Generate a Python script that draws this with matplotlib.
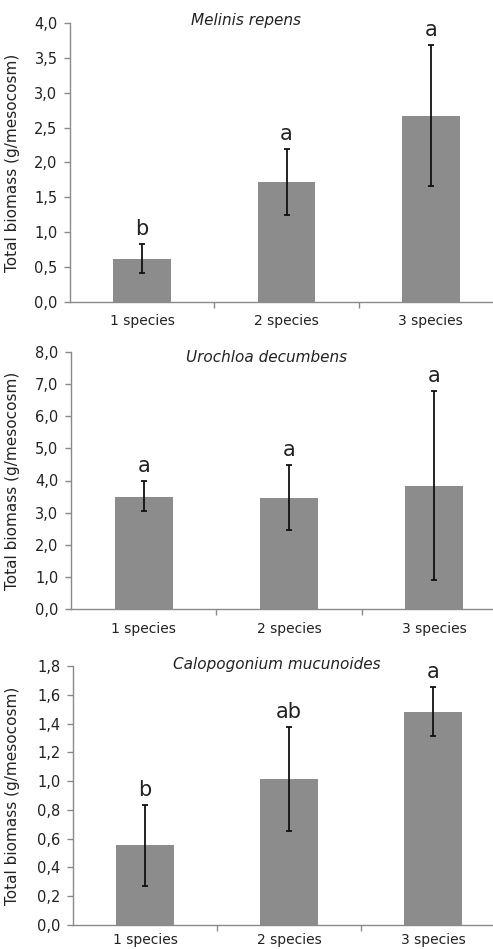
import matplotlib
matplotlib.use("Agg")
import matplotlib.pyplot as plt
import numpy as np

categories = ["1 species", "2 species", "3 species"]

titles = ["Melinis repens", "Urochloa decumbens", "Calopogonium mucunoides"]

melinis_mean = [0.61, 1.72, 2.67]
melinis_low = [0.41, 1.25, 1.67]
melinis_high = [0.83, 2.19, 3.69]
melinis_letters = ["b", "a", "a"]

urochloa_mean = [3.50, 3.44, 3.82]
urochloa_low = [3.06, 2.45, 0.89]
urochloa_high = [3.97, 4.47, 6.79]
urochloa_letters = ["a", "a", "a"]

calo_mean = [0.555, 1.016, 1.48]
calo_low = [0.274, 0.656, 1.311]
calo_high = [0.837, 1.378, 1.652]
calo_letters = ["b", "ab", "a"]

yticks_list = [np.arange(0, 4.01, 0.5), np.arange(0, 8.01, 1.0), np.arange(0, 1.81, 0.2)]
ylims = [4.0, 8.0, 1.8]

W, H = 493, 949
fig = plt.figure(figsize=(W / 100, H / 100), dpi=100)
fig.patch.set_facecolor("white")

# pixel boxes: left, top, right, bottom
boxes = [(70, 23, 503, 302), (71, 352, 507, 609), (73, 666, 505, 925)]
title_pos = [(246, 21), (267, 357), (277, 664)]
xpads = [9, 9, 5.5]

data = [
    (melinis_mean, melinis_low, melinis_high, melinis_letters),
    (urochloa_mean, urochloa_low, urochloa_high, urochloa_letters),
    (calo_mean, calo_low, calo_high, calo_letters),
]

axis_col = "#8a8a8a"
bar_col = "#8c8c8c"
txt_col = "#222222"

for i, (box, (mean, low, high, letters)) in enumerate(zip(boxes, data)):
    l, t, r, b = box
    ax = fig.add_axes([l / W, 1 - b / H, (r - l) / W, (b - t) / H])
    x = np.arange(len(categories))
    mean = np.array(mean)
    low = np.array(low)
    high = np.array(high)
    ax.bar(x, mean, width=0.4, color=bar_col, edgecolor="none", zorder=2)
    ax.errorbar(x, mean, yerr=[mean - low, high - mean], fmt="none",
                ecolor="#111111", elinewidth=1.3, capsize=2.5, capthick=1.3, zorder=3)
    for xi, hi, let in zip(x, high, letters):
        ax.annotate(let, (xi, hi), xytext=(0, 6.5), textcoords="offset points",
                    ha="center", va="baseline", fontsize=15, color=txt_col,
                    annotation_clip=False)
    ax.set_xlim(-0.5, 2.5)
    ax.set_ylim(0, ylims[i])
    ax.set_yticks(yticks_list[i])
    ax.set_yticklabels([f"{v:.1f}".replace(".", ",") for v in yticks_list[i]])
    ax.set_xticks([0.5, 1.5])
    ax.set_xticklabels(["", ""])
    ax.set_xticks(x, minor=True)
    ax.set_xticklabels(categories, minor=True)
    ax.tick_params(axis="x", which="minor", length=0, labelsize=10, colors=txt_col, pad=xpads[i])
    ax.tick_params(axis="x", which="major", length=4, color=axis_col, width=1)
    ax.tick_params(axis="y", length=4, color=axis_col, width=1, labelsize=10.5,
                   labelcolor=txt_col, pad=5)
    for s in ["top", "right"]:
        ax.spines[s].set_visible(False)
    for s in ["left", "bottom"]:
        ax.spines[s].set_color(axis_col)
        ax.spines[s].set_linewidth(1.0)
    ax.set_ylabel("Total biomass (g/mesocosm)", fontsize=11, color=txt_col)
    ax.yaxis.set_label_coords((20 - l) / (r - l), 0.5)
    tx, ty = title_pos[i]
    fig.text(tx / W, 1 - ty / H, titles[i], fontsize=11, style="italic",
             ha="center", va="center", color=txt_col)

fig.savefig("out.png", dpi=100, facecolor="white")
